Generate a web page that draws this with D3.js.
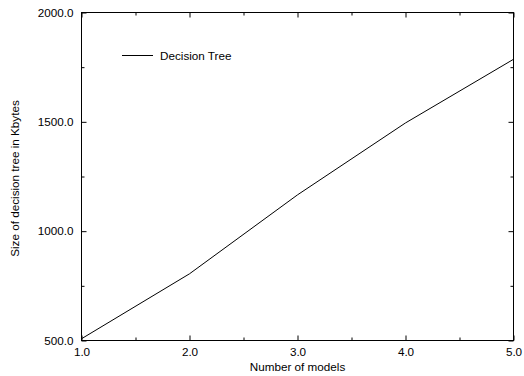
<!DOCTYPE html>
<html>
<head>
<meta charset="utf-8">
<script src="https://cdn.jsdelivr.net/npm/d3@7"></script>
<style>
  html, body { margin: 0; padding: 0; background: #fff; }
  svg { display: block; }
  text { font-family: "Liberation Sans", Arial, Helvetica, sans-serif; fill: #000; }
</style>
</head>
<body>
<svg id="chart" width="524" height="376"></svg>
<script>
// Tree size grows with the number of models
const models = [1, 2, 3, 4, 5];
const treeSizeKb = [508, 805, 1166, 1495, 1786];
const seriesName = "Decision Tree";

const xTicks = [1, 2, 3, 4, 5];
const xMinorTicks = [1.5, 2.5, 3.5, 4.5];
const yTicks = [500, 1000, 1500, 2000];
const yMinorTicks = [750, 1250, 1750];

const xTitle = "Number of models";
const yTitle = "Size of decision tree in Kbytes";

const svg = d3.select("#chart");
const plot = { left: 81.5, right: 513.5, top: 12.5, bottom: 340.5 };
const fontSize = 11.7;

const x = d3.scaleLinear().domain([1, 5]).range([plot.left, plot.right]);
const y = d3.scaleLinear().domain([500, 2000]).range([plot.bottom, plot.top]);

const fmt = d3.format(".1f");
const majorLen = 5, minorLen = 3;

// Frame
svg.append("rect")
  .attr("x", plot.left).attr("y", plot.top)
  .attr("width", plot.right - plot.left).attr("height", plot.bottom - plot.top)
  .attr("fill", "none").attr("stroke", "#000").attr("stroke-width", 1);

// Bottom axis: ticks point inward, labels below
const axBottom = svg.append("g").attr("transform", `translate(0,${plot.bottom})`)
  .call(d3.axisBottom(x).tickValues(xTicks).tickFormat(fmt).tickSize(-majorLen).tickPadding(7));
const axBottomMinor = svg.append("g").attr("transform", `translate(0,${plot.bottom})`)
  .call(d3.axisBottom(x).tickValues(xMinorTicks).tickFormat("").tickSize(-minorLen));
// Top axis mirror ticks
const axTop = svg.append("g").attr("transform", `translate(0,${plot.top})`)
  .call(d3.axisTop(x).tickValues(xTicks).tickFormat("").tickSize(-majorLen));
const axTopMinor = svg.append("g").attr("transform", `translate(0,${plot.top})`)
  .call(d3.axisTop(x).tickValues(xMinorTicks).tickFormat("").tickSize(-minorLen));

// Left axis
const axLeft = svg.append("g").attr("transform", `translate(${plot.left},0)`)
  .call(d3.axisLeft(y).tickValues(yTicks).tickFormat(fmt).tickSize(-majorLen).tickPadding(8));
const axLeftMinor = svg.append("g").attr("transform", `translate(${plot.left},0)`)
  .call(d3.axisLeft(y).tickValues(yMinorTicks).tickFormat("").tickSize(-minorLen));
// Right axis mirror ticks
const axRight = svg.append("g").attr("transform", `translate(${plot.right},0)`)
  .call(d3.axisRight(y).tickValues(yTicks).tickFormat("").tickSize(-majorLen));
const axRightMinor = svg.append("g").attr("transform", `translate(${plot.right},0)`)
  .call(d3.axisRight(y).tickValues(yMinorTicks).tickFormat("").tickSize(-minorLen));

[axBottom, axBottomMinor, axTop, axTopMinor, axLeft, axLeftMinor, axRight, axRightMinor].forEach(g => {
  g.select(".domain").remove();
  g.selectAll("line").attr("stroke", "#000");
  g.selectAll("text").attr("font-size", fontSize).attr("fill", "#000")
    .style("font-family", '"Liberation Sans", Arial, sans-serif');
});

// Data line
const line = d3.line().x((d, i) => x(models[i])).y(d => y(d));
svg.append("path")
  .datum(treeSizeKb)
  .attr("d", line)
  .attr("fill", "none")
  .attr("stroke", "#000")
  .attr("stroke-width", 1);

// Legend
const legend = svg.append("g").attr("transform", "translate(122,55)");
legend.append("line").attr("x1", 0).attr("x2", 31).attr("y1", 0.5).attr("y2", 0.5)
  .attr("stroke", "#000").attr("stroke-width", 1);
legend.append("text").attr("x", 38).attr("y", 4.5).attr("font-size", fontSize).text(seriesName);

// Axis titles
svg.append("text")
  .attr("x", (plot.left + plot.right) / 2).attr("y", 371)
  .attr("text-anchor", "middle").attr("font-size", fontSize).text(xTitle);
svg.append("text")
  .attr("transform", `translate(19,${(plot.top + plot.bottom) / 2 + 2}) rotate(-90)`)
  .attr("text-anchor", "middle").attr("font-size", fontSize).text(yTitle);
</script>
</body>
</html>
